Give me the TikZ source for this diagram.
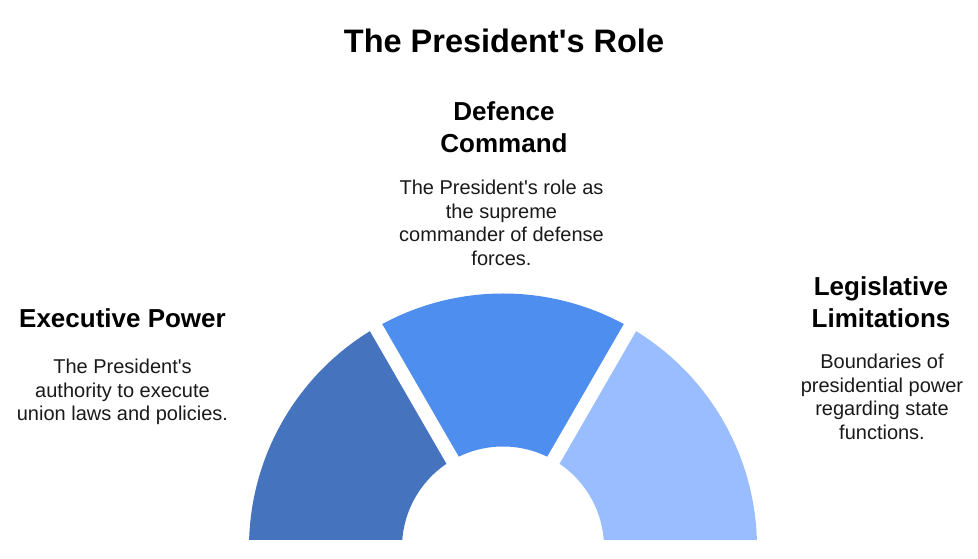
\documentclass[tikz,border=0pt]{standalone}
\usepackage{fontspec}
\setmainfont{Liberation Sans}[Ligatures=TeXOff]
\definecolor{segA}{HTML}{4573BD}
\definecolor{segB}{HTML}{4E8EEF}
\definecolor{segC}{HTML}{99BDFE}
\definecolor{txt}{HTML}{1A1A1A}
\tikzset{
  titletext/.style={anchor=base, font=\bfseries\fontsize{32.5}{38}\selectfont, text=black, inner sep=0pt},
  headtext/.style={anchor=base, align=center, font=\bfseries\fontsize{26}{32}\selectfont, text=black, inner sep=0pt},
  desctext/.style={anchor=base, align=center, font=\fontsize{20}{23.5}\selectfont, text=txt, inner sep=0pt},
  gapline/.style={white, line width=14pt}
}
\begin{document}
\begin{tikzpicture}[x=1pt,y=1pt]
\useasboundingbox[fill=white] (0,0) rectangle (978,559);
% arch
\begin{scope}[shift={(503,11.5)}]
  \fill[segA] (180:254pt) arc[start angle=180, end angle=120, radius=254pt] -- (120:101pt) arc[start angle=120, end angle=180, radius=101pt] -- cycle;
  \fill[segB] (120:254pt) arc[start angle=120, end angle=60, radius=254pt] -- (60:101pt) arc[start angle=60, end angle=120, radius=101pt] -- cycle;
  \fill[segC] (60:254pt) arc[start angle=60, end angle=0, radius=254pt] -- (0:101pt) arc[start angle=0, end angle=60, radius=101pt] -- cycle;
  \coordinate (ctr) at (0,0);
  \coordinate (g1) at (60:275pt);
  \coordinate (g2) at (120:275pt);
  \draw[gapline] (ctr) -- (g1);
  \draw[gapline] (ctr) -- (g2);
  \fill[white] (-275,-20) rectangle (275,7);
\end{scope}
% title
\node[titletext] (title) at (504,506) {The President's Role};
% middle
\node[headtext] (midhead) at (504,406) {Defence\\Command};
\node[desctext] (middesc) at (501.5,293.5) {The President's role as\\the supreme\\commander of defense\\forces.};
% left
\node[headtext] (lefthead) at (122.5,231) {Executive Power};
\node[desctext] (leftdesc) at (122.5,138) {The President's\\authority to execute\\union laws and policies.};
% right
\node[headtext] (righthead) at (881,231) {Legislative\\Limitations};
\node[desctext] (rightdesc) at (882,119.5) {Boundaries of\\presidential power\\regarding state\\functions.};
\end{tikzpicture}
\end{document}
